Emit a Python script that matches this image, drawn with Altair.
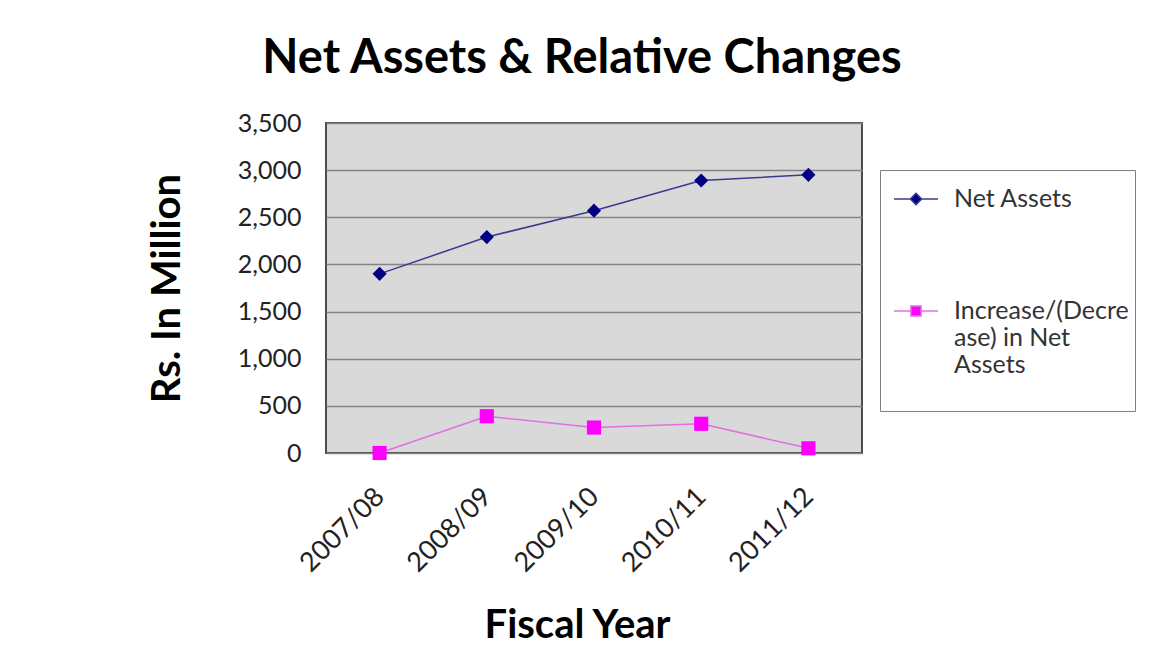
import altair as alt
import pandas as pd

years = ["2007/08", "2008/09", "2009/10", "2010/11", "2011/12"]
net_assets = [1900, 2290, 2570, 2890, 2950]
change = [0, 390, 270, 310, 50]
series = ["Net Assets", "Increase/(Decrease) in Net Assets"]
marker_colors = ["#000080", "#FF00FF"]
line_colors = ["#3A3A90", "#E070E0"]

rows = []
for y, v in zip(years, net_assets):
    rows.append({"year": y, "value": v, "series": series[0]})
for y, v in zip(years, change):
    rows.append({"year": y, "value": v, "series": series[1]})
df = pd.DataFrame(rows)

FONT = "Lato"

x_enc = alt.X(
    "year:N", sort=years,
    axis=alt.Axis(
        title="Fiscal Year", titleFont=FONT, titleFontSize=40, titleFontWeight="bold",
        titleColor="#000", titleX=251, titleY=172, titleBaseline="middle", titleAlign="center",
        labelAngle=-45, labelFont=FONT, labelFontSize=27, labelColor="#222",
        ticks=False, domain=False, grid=False, labelPadding=30, labelOffset=-9,
    ),
)
y_enc = alt.Y(
    "value:Q",
    scale=alt.Scale(domain=[0, 3500], nice=False),
    axis=alt.Axis(
        title="Rs. In Million", titleFont=FONT, titleFontSize=40, titleFontWeight="bold",
        titleColor="#000", titleX=-159, titleBaseline="middle",
        values=[0, 500, 1000, 1500, 2000, 2500, 3000, 3500], format=",.0f",
        labelFont=FONT, labelFontSize=25, labelColor="#222", labelPadding=25,
        ticks=False, domain=False, grid=True, gridColor="#858585", gridWidth=1.3,
    ),
)

legend_kw = dict(
    title=None, orient="none", legendX=554, legendY=47, padding=6,
    strokeColor="#808080", fillColor="white",
    labelFont=FONT, labelFontSize=25, labelColor="#333", labelLimit=400,
    symbolSize=1936, symbolStrokeWidth=1.5, symbolOffset=7, labelOffset=15, rowPadding=76,
    labelExpr="datum.label == 'Increase/(Decrease) in Net Assets' ? ['Increase/(Decre', 'ase) in Net', 'Assets', ''] : datum.label",
)

base = alt.Chart(df)

lines = base.mark_line(strokeWidth=1.5).encode(
    x=x_enc, y=y_enc,
    stroke=alt.Stroke("series:N", scale=alt.Scale(domain=series, range=line_colors), legend=None),
)

points = base.mark_point(filled=True, size=200, opacity=1).encode(
    x=x_enc, y=y_enc,
    color=alt.Color("series:N", scale=alt.Scale(domain=series, range=marker_colors), legend=None),
    shape=alt.Shape("series:N", scale=alt.Scale(domain=series, range=["diamond", "square"]), legend=None),
)

legend_paths = [
    "M-1,0H-0.26M0.26,0H1M0,-0.26L0.26,0L0,0.26L-0.26,0Z",
    "M-1,0H-0.23M0.23,0H1M-0.23,-0.23H0.23V0.23H-0.23Z",
]
legend_layer = base.transform_filter("false").mark_point(filled=True, opacity=1).encode(
    x=x_enc, y=y_enc,
    color=alt.Color("series:N", scale=alt.Scale(domain=series, range=marker_colors), legend=alt.Legend(**legend_kw)),
    stroke=alt.Stroke("series:N", scale=alt.Scale(domain=series, range=line_colors), legend=alt.Legend(**legend_kw)),
    shape=alt.Shape("series:N", scale=alt.Scale(domain=series, range=legend_paths), legend=alt.Legend(**legend_kw)),
)

chart = (
    alt.layer(lines, points, legend_layer)
    .resolve_scale(color="independent", shape="independent", stroke="independent")
    .properties(
        width=536, height=330,
        autosize=alt.AutoSizeParams(type="none"),
        padding={"left": 318, "top": 115, "right": 280, "bottom": 199},
        title=alt.TitleParams(
            "Net Assets & Relative Changes", font=FONT, fontSize=47, fontWeight="bold",
            color="#000", anchor="middle", dx=-12, offset=28,
        ),
        background="white",
    )
    .configure_view(fill="#D9D9D9", stroke="#4D4D4D", strokeWidth=2)
)

chart.save("out.html", embed_options={"renderer": "svg", "actions": False})
